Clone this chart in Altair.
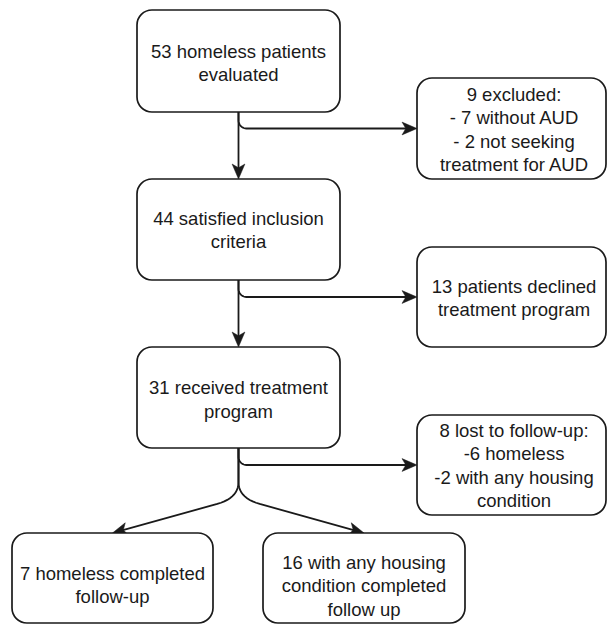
import altair as alt
import pandas as pd
import numpy as np

# ---------------- data (page-pixel layout of the flow diagram) ----------------
W, H = 599, 616
X0, Y0 = 8, 8

box_ids = ["b1", "b2", "b3", "e1", "e2", "e3", "f1", "f2"]
box_x0 = [137, 137, 137, 417, 417, 417, 12, 263]
box_x1 = [340, 340, 340, 606, 606, 606, 213, 465]
box_y0 = [10, 179, 347, 78, 247, 415, 533, 533]
box_y1 = [112, 280, 448, 179, 347, 515, 623, 623]
box_text = [
    ["53 homeless patients", "evaluated"],
    ["44 satisfied inclusion", "criteria"],
    ["31 received treatment", "program"],
    ["9 excluded:", "- 7 without AUD", "- 2 not seeking", "treatment for AUD"],
    ["13 patients declined", "treatment program"],
    ["8 lost to follow-up:", "-6 homeless", "-2 with any housing", "condition"],
    ["7 homeless completed", "follow-up"],
    ["16 with any housing", "condition completed", "follow up"],
]
text_cx = [238.5, 238.5, 238.5, 514, 514, 514, 112.5, 364]
text_cy = [63.5, 230.5, 400, 130, 298.5, 466, 585.5, 586]
line_gap = 23.5

# edges: (from, to, kind)
edges = [
    ("b1", "b2", "down"),
    ("b2", "b3", "down"),
    ("b1", "e1", "elbow"),
    ("b2", "e2", "elbow"),
    ("b3", "e3", "elbow"),
    ("b3", "f1", "split"),
    ("b3", "f2", "split"),
]
split_start = 482
split_corner = 498

INK = "#1a1a1a"
FONT = "Liberation Sans, Arial, Helvetica, sans-serif"
ARROW_SIZE = 256
HALF = np.sqrt(ARROW_SIZE) / 2  # arrow half-length in px
ARROW_PATH = "M0,1 L-0.8,-0.875 L0,-0.4 L0.8,-0.875 Z"

# ---------------- build tables ----------------
B = {i: dict(x0=a, x1=b, y0=c, y1=d) for i, a, b, c, d in zip(box_ids, box_x0, box_x1, box_y0, box_y1)}
boxes = pd.DataFrame({"id": box_ids, "x0": box_x0, "x1": box_x1, "y0": box_y0, "y1": box_y1})

trows = []
for lines, cx, cy in zip(box_text, text_cx, text_cy):
    n = len(lines)
    for k, t in enumerate(lines):
        trows.append({"x": cx, "y": cy + (k - (n - 1) / 2) * line_gap, "t": t})
texts = pd.DataFrame(trows)

lrows, arows = [], []
for s, (a, b, kind) in enumerate(edges):
    A, T = B[a], B[b]
    cx = (A["x0"] + A["x1"]) / 2
    if kind == "down":
        tip = np.array([cx, T["y0"]])
        d = np.array([0.0, 1.0])
        pts = [(cx, A["y1"])]
    elif kind == "elbow":
        ye = (T["y0"] + T["y1"]) / 2
        r = 8
        tip = np.array([T["x0"], ye])
        d = np.array([1.0, 0.0])
        pts = [(cx, A["y1"])]
        for t in np.linspace(0, np.pi / 2, 10):
            pts.append((cx + r - r * np.cos(t), ye - r + r * np.sin(t)))
    else:
        tip = np.array([(T["x0"] + T["x1"]) / 2, T["y0"]])
        P0 = np.array([cx, split_start])
        P1 = np.array([cx, split_corner])
        d = tip - P1
        d = d / np.linalg.norm(d)
        P2 = P1 + 22 * d
        pts = [(cx, A["y1"])]
        for t in np.linspace(0, 1, 12):
            p = (1 - t) ** 2 * P0 + 2 * (1 - t) * t * P1 + t ** 2 * P2
            pts.append((p[0], p[1]))
    end = tip - HALF * d
    pts.append((end[0], end[1]))
    for k, (x, y) in enumerate(pts):
        lrows.append({"seg": s, "o": k, "x": x, "y": y})
    ang = (np.degrees(np.arctan2(-d[0], d[1])) + 360) % 360
    arows.append({"x": end[0], "y": end[1], "ang": ang})
lines_df = pd.DataFrame(lrows)
arrows = pd.DataFrame(arows)

# ---------------- chart ----------------
xs = alt.Scale(domain=[X0, X0 + W], nice=False, zero=False)
ys = alt.Scale(domain=[Y0, Y0 + H], nice=False, zero=False, reverse=True)

rects = alt.Chart(boxes).mark_rect(
    fill="white", stroke=INK, strokeWidth=1.7, cornerRadius=15
).encode(
    x=alt.X("x0:Q", scale=xs, axis=None),
    x2="x1:Q",
    y=alt.Y("y0:Q", scale=ys, axis=None),
    y2="y1:Q",
)

conn = alt.Chart(lines_df).mark_line(color=INK, strokeWidth=1.8, strokeCap="butt").encode(
    x=alt.X("x:Q", scale=xs, axis=None),
    y=alt.Y("y:Q", scale=ys, axis=None),
    detail="seg:N",
    order="o:Q",
)

heads = alt.Chart(arrows).mark_point(
    shape=ARROW_PATH, size=ARROW_SIZE, filled=True, fill=INK, stroke=INK, strokeWidth=0.5, opacity=1
).encode(
    x=alt.X("x:Q", scale=xs, axis=None),
    y=alt.Y("y:Q", scale=ys, axis=None),
    angle=alt.Angle("ang:Q", scale=None),
)

labels = alt.Chart(texts).mark_text(
    font=FONT, fontSize=18.5, color=INK, align="center", baseline="middle"
).encode(
    x=alt.X("x:Q", scale=xs, axis=None),
    y=alt.Y("y:Q", scale=ys, axis=None),
    text="t:N",
)

chart = alt.layer(conn, heads, rects, labels).properties(
    width=W, height=H, padding=0, autosize=alt.AutoSizeParams(type="none"), background="white"
).configure_view(stroke=None)

chart.save("out.html", embed_options={"renderer": "svg", "actions": False})
